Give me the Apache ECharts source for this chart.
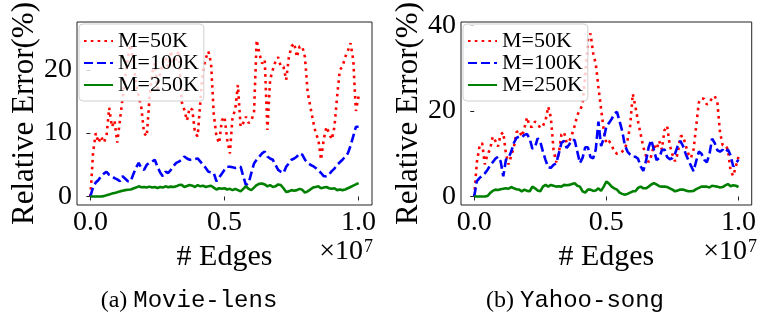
<!DOCTYPE html>
<html><head><meta charset="utf-8">
<script src="https://cdn.jsdelivr.net/npm/echarts@6/dist/echarts.min.js"></script>
<style>html,body{margin:0;padding:0;background:#fff}#c{width:759px;height:320px}</style>
</head><body><div id="c"></div>
<script>
// x positions (# Edges, in units of 1e7)
const edges = [
0.00,0.01,0.02,0.03,0.04,0.05,0.06,0.07,0.08,0.09,
0.10,0.11,0.12,0.13,0.14,0.15,0.16,0.17,0.18,0.19,
0.20,0.21,0.22,0.23,0.24,0.25,0.26,0.27,0.28,0.29,
0.30,0.31,0.32,0.33,0.34,0.35,0.36,0.37,0.38,0.39,
0.40,0.41,0.42,0.43,0.44,0.45,0.46,0.47,0.48,0.49,
0.50,0.51,0.52,0.53,0.54,0.55,0.56,0.57,0.58,0.59,
0.60,0.61,0.62,0.63,0.64,0.65,0.66,0.67,0.68,0.69,
0.70,0.71,0.72,0.73,0.74,0.75,0.76,0.77,0.78,0.79,
0.80,0.81,0.82,0.83,0.84,0.85,0.86,0.87,0.88,0.89,
0.90,0.91,0.92,0.93,0.94,0.95,0.96,0.97,0.98,0.99,
1.00];
const seriesNames = ['M=50K','M=100K','M=250K'];
// (a) Movie-lens
const movie50 = [
0,7,10,8.5,9.5,8.5,9.5,14,11,12,
8.5,12,15.5,19,22,24,21,18,15.8,14,
10,9.5,15.3,19.5,21,17,19.5,21,22,20.5,
23,20.5,22,23,15,13.7,12,14,13.7,10,
9.5,15,20,21.8,22.9,21,13,9.5,8.4,12,
12.6,9,6.8,12.5,13.7,17.6,11,11.6,12.6,11.6,
12,13.2,24.7,22.6,21,21.6,10.5,18.4,20,21.3,
22,20.5,20.5,18.4,22,23.7,24.2,22,23.7,23.7,
22,16.5,14.2,12,10,9,5.8,9,11,10,
9,11,15.8,20,20.5,22,23,24.2,21.6,13.5,
15.8];
const movie100 = [
0,1.5,2.2,2.6,3.2,3.6,3.9,3.4,3.2,2.9,
2.7,2.4,3.2,2.8,2.4,2.4,3.5,4.5,5.3,4.5,
4.2,5,5.3,5.5,5.8,4.7,3.8,3.2,3.9,3.7,
4.2,4.8,5.3,5.5,5.8,6.3,6,5.8,5.8,5.9,
6,5.5,5,4.5,3.9,3.8,3.7,2.4,3,3.6,
4.2,4.7,4.7,4.6,4.5,4.6,4.7,3.2,1.8,2.1,
3.7,5.2,5.8,6.3,6.8,7.1,6.3,6,5.8,5,
4.2,3.9,3.7,4.7,5.2,5.8,6,6.3,6.8,6.6,
5.8,5.3,5,4.8,4.5,4.1,3.7,3.2,3.2,3.5,
4,4.4,5,5.4,5.8,6.3,6.8,8,9.5,11,
11];
const movie250 = [
0,0,0,0,0,0.05,0.2,0.3,0.45,0.55,
0.65,0.8,0.9,1,1.05,1.1,1.25,1.4,1.6,1.45,
1.5,1.4,1.55,1.4,1.5,1.35,1.5,1.4,1.6,1.45,
1.55,1.5,1.6,1.8,1.85,1.5,1.65,1.8,1.7,1.5,
1.8,1.6,1.7,1.5,1.6,1.7,1.4,1.1,1.3,1.2,
1.3,1.1,1.2,1,1.2,1,0.8,1.2,1.6,1.2,
1,1.4,1.8,2,2.05,1.9,1.6,1.8,1.5,1.6,
1.9,1.8,1.3,0.7,0.8,1,0.9,1,1.2,1.05,
0.6,0.8,1.1,1.4,1.5,1.6,1.3,1.4,1.5,1.3,
1.2,1.3,1,1.1,1,1.1,1.3,1.5,1.7,1.9,
2.1];
// (b) Yahoo-song
const yahoo50 = [
0,8,11.7,12.5,7.5,9.8,11,14,13,11.7,
14.5,15,10,7.5,9.5,11.5,15,15.5,14,16,
18.5,16.3,16.3,17.5,17,16,16.5,17.8,21,18.5,
11,8,10,14.5,15,12.5,13,14.5,16.5,19,
20.2,21.5,28,36.5,38.1,33.5,31,25.5,20.5,15.5,
12.5,13,12,10.5,10,10,10.5,11,13.2,16.5,
24,21,17.5,14.5,11.5,9.5,8,9.5,12,11,
13,11,15.5,16.5,12,9.8,8.2,10,14,14.2,
12,10,9,11,16.5,22,23,22.8,21.5,22,
23,23.5,22,15,12,12,11,6,4.8,7,
9.3];
const yahoo100 = [
0,3.6,4.3,4.8,5.4,6.2,7.2,8,8.8,9.3,
8.2,4.7,8.6,9,10.5,12.5,13.7,14,13.8,14.4,
14.6,13.5,11.2,11.5,13.6,12.8,10.5,8.5,6.8,6.7,
7.4,7.7,10,12.5,13,11.3,12.2,13.2,13.2,10.5,
7.8,9,11.5,11.5,9.2,8.9,11,17.5,11.8,13.5,
16.4,17.2,18.1,19.3,19.8,17.6,15.3,12,10.5,9.8,
9.3,9.3,8.8,7,6,8.3,11.5,13.2,10.9,8.5,
9,10.8,11,9.2,8.7,9,10,11.8,13,11.8,
10,8.5,7.2,5.9,8.3,10.5,10,8.6,8,9.8,
13.5,12.5,10.8,10.5,10.9,10.3,11,9.6,7,7.8,
8.6];
const yahoo250 = [
0,0,0,0,0,0.1,0.8,1.3,1.6,1.5,
1.7,1.8,1.9,1.8,2.2,1.9,1.7,1.6,1.2,1.6,
1.3,1.2,2.3,1.9,1.4,1.2,2.3,2.7,2.3,2.7,
2.5,2.3,2.4,2.3,2.7,2.6,2.7,2.9,3.1,2.5,
2.3,1.2,0.9,1.6,1.6,1.3,1.4,1.9,1.3,2.3,
3.5,3,2.3,1.9,1.6,0.9,0.6,0.4,0.6,0.9,
1.2,1.2,2,2.3,1.9,1.9,2.3,2.8,3.1,2.8,
2.4,2.3,2.3,2.2,1.9,1.6,1.2,1.4,1.6,1.6,
1.4,1.2,1.2,1.3,1.7,2,2.3,2.3,2.3,2.1,
2.5,2.4,2.3,2.1,2.2,2.6,2.9,2.4,2.6,2.5,
2.2];
const xTicks = [0, 0.5, 1.0];
const yTicksMovie = [0, 10, 20];
const yTicksYahoo = [0, 20, 40];
const xTitle = '# Edges';
const yTitle = 'Relative Error(%)';
const captions = [['(a) ', 'Movie-lens'], ['(b) ', 'Yahoo-song']];

const SERIF = '"Liberation Serif", "DejaVu Serif", serif';
const MONO = '"Liberation Mono", "DejaVu Sans Mono", monospace';
const styles = [
  {color: '#ff0000', type: [2.6, 4.2], width: 2.6},
  {color: '#0000ff', type: [9, 4], width: 2.6},
  {color: '#008000', type: 'solid', width: 2.6}
];
const chart = echarts.init(document.getElementById('c'), null, {renderer: 'canvas'});

function xAxis(gi) {
  return {
    type: 'value', gridIndex: gi, min: -0.05, max: 1.05,
    name: xTitle, nameLocation: 'middle', nameGap: 21,
    nameTextStyle: {fontFamily: SERIF, fontSize: 30, color: '#000'},
    axisLine: {show: false}, splitLine: {show: false},
    axisTick: {show: true, customValues: xTicks, length: 4, lineStyle: {color: '#222'}},
    axisLabel: {customValues: xTicks, margin: 4, fontFamily: SERIF, fontSize: 28, color: '#000',
      formatter: v => v.toFixed(1)}
  };
}
function yAxis(gi, min, max, ticks) {
  return {
    type: 'value', gridIndex: gi, min: min, max: max,
    name: yTitle, nameLocation: 'middle', nameGap: 37, nameRotate: 90,
    nameTextStyle: {fontFamily: SERIF, fontSize: 31, color: '#000'},
    axisLine: {show: false}, splitLine: {show: false},
    axisTick: {show: true, customValues: ticks, length: 4, lineStyle: {color: '#222'}},
    axisLabel: {customValues: ticks, margin: 5, fontFamily: SERIF, fontSize: 28, color: '#000'}
  };
}
function mk(arr) { return edges.map((x, i) => [x, arr[i]]); }
const sets = [[movie50, movie100, movie250], [yahoo50, yahoo100, yahoo250]];
const series = [];
sets.forEach((s, gi) => s.forEach((arr, k) => series.push({
  type: 'line', name: seriesNames[k], xAxisIndex: gi, yAxisIndex: gi,
  data: mk(arr), symbol: 'none', showSymbol: false, animation: false,
  lineStyle: {color: styles[k].color, type: styles[k].type, width: styles[k].width, cap: 'butt'},
  itemStyle: {color: styles[k].color}
})));
function legend(left) {
  return {
    left: left, top: 24, orient: 'vertical', itemWidth: 29, itemHeight: 10, itemGap: 0,
    padding: [6, 5, 5, 4], backgroundColor: 'rgba(255,255,255,0.8)',
    borderColor: '#d0d0d0', borderWidth: 1, borderRadius: 4,
    textStyle: {fontFamily: SERIF, fontSize: 22, color: '#000', lineHeight: 21},
    itemStyle: {opacity: 0}, data: seriesNames, selectedMode: false
  };
}
const graphic = [];
[[363, 373, 189], [747, 757, 575]].forEach((p, i) => {
  graphic.push({type: 'text', x: p[0], y: 266, style: {text: '×10', fontFamily: SERIF, fontSize: 28, fill: '#000', align: 'right', verticalAlign: 'bottom'}});
  graphic.push({type: 'text', x: p[1], y: 238, style: {text: '7', fontFamily: SERIF, fontSize: 18, fill: '#000', align: 'right', verticalAlign: 'top'}});
  graphic.push({type: 'text', x: p[2], y: 301, style: {
    text: '{s|' + captions[i][0] + '}{m|' + captions[i][1] + '}',
    rich: {s: {fontFamily: SERIF, fontSize: 24, fill: '#000'}, m: {fontFamily: MONO, fontSize: 24, fill: '#000'}},
    align: 'center', verticalAlign: 'middle'}});
});
chart.setOption({
  animation: false,
  grid: [
    {left: 77, top: 22, width: 295, height: 183, show: true, borderColor: '#222', borderWidth: 1, containLabel: false},
    {left: 461, top: 22, width: 295, height: 183, show: true, borderColor: '#222', borderWidth: 1, containLabel: false}
  ],
  xAxis: [xAxis(0), xAxis(1)],
  yAxis: [yAxis(0, -1.35, 27.55, yTicksMovie), yAxis(1, -2.0, 40.8, yTicksYahoo)],
  legend: [legend(79), legend(463)],
  series: series,
  graphic: graphic
});
</script></body></html>
